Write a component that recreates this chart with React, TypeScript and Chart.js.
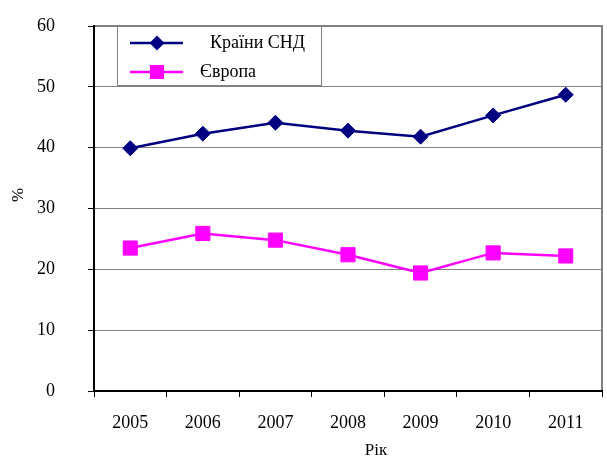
import React, { useEffect, useRef } from 'react';
import { Chart, registerables } from 'chart.js';

Chart.register(...registerables);

const years = ['2005', '2006', '2007', '2008', '2009', '2010', '2011'];
const cisValues = [39.9, 42.3, 44.1, 42.8, 41.8, 45.3, 48.7];
const europeValues = [23.5, 25.9, 24.8, 22.4, 19.4, 22.7, 22.2];
const seriesLabels = ['Країни СНД', 'Європа'];
const seriesColors = ['#000080', '#FF00FF'];
const yMin = 0;
const yMax = 60;
const yStep = 10;
const xTitle = 'Рік';
const yTitle = '%';

const FONT = '"Liberation Serif", "Times New Roman", serif';

const framePlugin = {
  id: 'frame',
  beforeDraw(chart: any) {
    const { ctx, chartArea: a } = chart;
    ctx.save();
    ctx.fillStyle = '#ffffff';
    ctx.fillRect(0, 0, chart.width, chart.height);
    ctx.strokeStyle = '#808080';
    ctx.lineWidth = 2;
    ctx.strokeRect(a.left, a.top, a.right - a.left, a.bottom - a.top);
    ctx.restore();
  },
};

const axisTitlesPlugin = {
  id: 'axisTitles',
  afterDraw(chart: any) {
    const { ctx } = chart;
    ctx.save();
    ctx.fillStyle = '#000000';
    ctx.font = `17px ${FONT}`;
    ctx.textAlign = 'center';
    ctx.textBaseline = 'middle';
    ctx.fillText(xTitle, 376, 451);
    ctx.translate(19, 195);
    ctx.rotate(-Math.PI / 2);
    ctx.fillText(yTitle, 0, 0);
    ctx.restore();
  },
};

const legendPlugin = {
  id: 'boxLegend',
  afterDraw(chart: any) {
    const { ctx } = chart;
    const bx = 117.5, by = 26.5, bw = 204, bh = 59;
    ctx.save();
    ctx.fillStyle = '#ffffff';
    ctx.fillRect(bx, by, bw, bh);
    ctx.strokeStyle = '#808080';
    ctx.lineWidth = 1;
    ctx.strokeRect(bx, by, bw, bh);
    const rows = [
      { y: 43, textX: 210 },
      { y: 72, textX: 200 },
    ];
    chart.data.datasets.forEach((ds: any, i: number) => {
      const r = rows[i];
      ctx.strokeStyle = ds.borderColor;
      ctx.lineWidth = 2.5;
      ctx.beginPath();
      ctx.moveTo(130, r.y);
      ctx.lineTo(183, r.y);
      ctx.stroke();
      ctx.fillStyle = ds.backgroundColor;
      const cx = 157, cy = r.y;
      ctx.beginPath();
      if (ds.pointStyle === 'rectRot') {
        const rr = ds.pointRadius;
        ctx.moveTo(cx, cy - rr);
        ctx.lineTo(cx + rr, cy);
        ctx.lineTo(cx, cy + rr);
        ctx.lineTo(cx - rr, cy);
        ctx.closePath();
      } else {
        const s = ds.pointRadius * Math.SQRT1_2;
        ctx.rect(cx - s, cy - s, 2 * s, 2 * s);
      }
      ctx.fill();
      ctx.fillStyle = '#000000';
      ctx.font = `18px ${FONT}`;
      ctx.textAlign = 'left';
      ctx.textBaseline = 'middle';
      ctx.fillText(ds.label, r.textX, r.y);
    });
    ctx.restore();
  },
};

export default function App() {
  const ref = useRef<HTMLCanvasElement | null>(null);

  useEffect(() => {
    if (!ref.current) return;
    const chart = new Chart(ref.current, {
      type: 'line',
      data: {
        labels: years,
        datasets: [
          {
            label: seriesLabels[0],
            data: cisValues,
            borderColor: seriesColors[0],
            backgroundColor: seriesColors[0],
            borderWidth: 2.5,
            pointStyle: 'rectRot',
            pointRadius: 7.5,
            pointBorderWidth: 1,
            tension: 0,
          },
          {
            label: seriesLabels[1],
            data: europeValues,
            borderColor: seriesColors[1],
            backgroundColor: seriesColors[1],
            borderWidth: 2.5,
            pointStyle: 'rect',
            pointRadius: 10,
            pointBorderWidth: 1,
            tension: 0,
          },
        ],
      },
      options: {
        responsive: false,
        animation: false,
        layout: { autoPadding: false, padding: { top: 26, right: 5, left: 0, bottom: 0 } },
        plugins: {
          legend: { display: false },
          tooltip: { enabled: false },
        },
        scales: {
          x: {
            type: 'category',
            offset: true,
            afterFit(scale: any) {
              scale.height = 68;
              scale.paddingLeft = 0;
              scale.paddingRight = 0;
            },
            grid: {
              display: true,
              drawOnChartArea: false,
              offset: true,
              tickLength: 6,
              tickColor: '#000000',
              lineWidth: 1,
            },
            border: { display: true, color: '#000000', width: 2 },
            ticks: {
              color: '#000000',
              padding: 15,
              font: { family: FONT, size: 18 },
              maxRotation: 0,
            },
            title: { display: false },
          },
          y: {
            min: yMin,
            max: yMax,
            afterFit(scale: any) {
              scale.width = 94;
              scale.paddingTop = 0;
              scale.paddingBottom = 0;
            },
            grid: {
              color: '#808080',
              lineWidth: 1,
              tickLength: 6,
              tickColor: '#000000',
            },
            border: { display: true, color: '#000000', width: 2 },
            ticks: {
              stepSize: yStep,
              color: '#000000',
              padding: 33,
              font: { family: FONT, size: 18 },
            },
            title: { display: false },
          },
        },
      },
      plugins: [framePlugin, legendPlugin, axisTitlesPlugin],
    });
    return () => chart.destroy();
  }, []);

  return (
    <div style={{ position: 'absolute', left: 0, top: 0, width: 607, height: 459 }}>
      <canvas ref={ref} width={607} height={459} style={{ display: 'block' }} />
    </div>
  );
}
